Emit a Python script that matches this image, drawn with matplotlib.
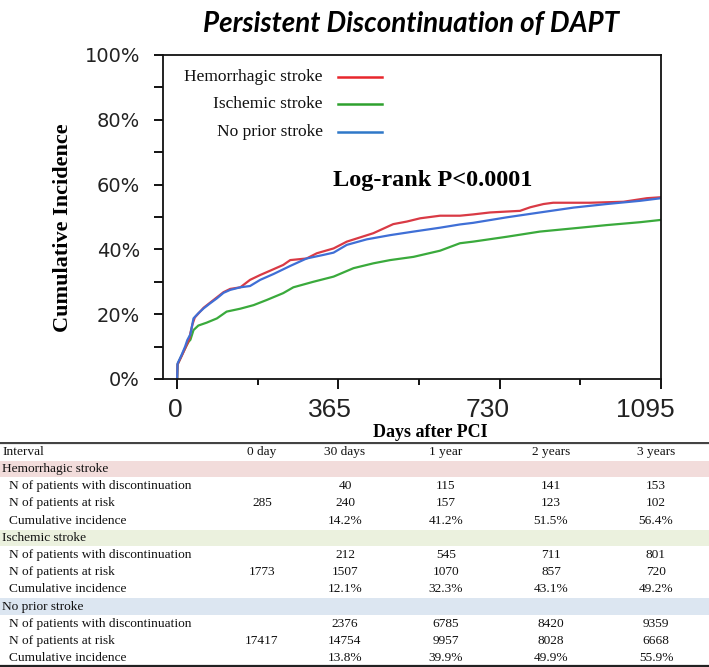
import matplotlib
matplotlib.use("Agg")
import matplotlib.pyplot as plt
import matplotlib.transforms as mtransforms
import numpy as np

# courbes (jours, incidence cumulée)
jours_hemo = [0, 1, 10, 20, 28, 30, 35, 40, 50, 60, 75, 90, 105, 120, 143, 165, 188, 210, 240,
              256, 293, 316, 354, 384, 414, 444, 489, 520, 550, 595, 640, 670, 708, 776, 799,
              829, 851, 934, 1010, 1063, 1095]
inc_hemo = [0.0, 0.045, 0.07, 0.10, 0.125, 0.142, 0.17, 0.19, 0.205, 0.22, 0.236, 0.252, 0.268,
            0.278, 0.283, 0.306, 0.321, 0.334, 0.352, 0.367, 0.372, 0.388, 0.403, 0.424, 0.437,
            0.45, 0.478, 0.486, 0.496, 0.504, 0.504, 0.508, 0.514, 0.519, 0.53, 0.54, 0.544,
            0.544, 0.547, 0.558, 0.561]

jours_isch = [0, 1, 10, 20, 26, 30, 37, 48, 67, 90, 112, 143, 173, 203, 240, 263, 308, 354, 399,
              444, 482, 535, 595, 640, 670, 746, 821, 897, 972, 1048, 1095]
inc_isch = [0.0, 0.045, 0.072, 0.10, 0.115, 0.121, 0.151, 0.165, 0.174, 0.187, 0.208, 0.217,
            0.228, 0.244, 0.265, 0.283, 0.30, 0.316, 0.342, 0.357, 0.367, 0.377, 0.396, 0.419,
            0.424, 0.439, 0.455, 0.465, 0.475, 0.484, 0.491]

jours_sans = [0, 1, 10, 18, 23, 30, 37, 48, 60, 75, 90, 105, 120, 143, 165, 188, 218, 256, 293,
              331, 354, 384, 429, 482, 535, 595, 640, 670, 746, 821, 897, 972, 1048, 1095]
inc_sans = [0.0, 0.048, 0.074, 0.10, 0.12, 0.138, 0.187, 0.203, 0.218, 0.234, 0.249, 0.266,
            0.275, 0.283, 0.287, 0.306, 0.324, 0.349, 0.372, 0.383, 0.39, 0.414, 0.431, 0.444,
            0.455, 0.467, 0.477, 0.482, 0.499, 0.514, 0.529, 0.54, 0.55, 0.558]

groupes = ["Hemorrhagic stroke", "Ischemic stroke", "No prior stroke"]
couleurs = ["#d93a45", "#3aaa3c", "#3f6fd6"]
couleurs_leg = ["#e8262c", "#2ea12e", "#2f78c8"]

# tableau sous le graphique
colonnes = ["0 day", "30 days", "1 year", "2 years", "3 years"]
lignes = ["N of patients with discontinuation", "N of patients at risk", "Cumulative incidence"]
disc = [["", "40", "115", "141", "153"],
        ["", "212", "545", "711", "801"],
        ["", "2376", "6785", "8420", "9359"]]
risque = [["285", "240", "157", "123", "102"],
          ["1773", "1507", "1070", "857", "720"],
          ["17417", "14754", "9957", "8028", "6668"]]
cumul = [["", "14.2%", "41.2%", "51.5%", "56.4%"],
         ["", "12.1%", "32.3%", "43.1%", "49.2%"],
         ["", "13.8%", "39.9%", "49.9%", "55.9%"]]
fonds = ["#f2dcdb", "#ebf1de", "#dce6f1"]

fig = plt.figure(figsize=(7.09, 6.67), dpi=100)
W, H = 709, 667

# axes principaux (box en pixels: gauche 163, droite 661, haut 55, bas 379)
ax = fig.add_axes([163 / W, 1 - 379 / H, (661 - 163) / W, (379 - 55) / H])
ax.plot(jours_isch, inc_isch, color=couleurs[1], lw=1.6)
ax.plot(jours_hemo, inc_hemo, color=couleurs[0], lw=1.6)
ax.plot(jours_sans, inc_sans, color=couleurs[2], lw=1.6)

ax.set_xlim(-32, 1095)
ax.set_ylim(0, 1)
for s in ax.spines.values():
    s.set_linewidth(1.3)
    s.set_color("#111111")

ax.set_xticks([0, 365, 730, 1095])
ax.set_xticks([182.5, 547.5, 912.5], minor=True)
ax.set_xticklabels(["0", "365", "730", "1095"], family="Liberation Sans",
                   fontsize=19, color="#222222")
ax.tick_params(axis="x", which="major", length=7.5, width=1.3, pad=6)
ax.tick_params(axis="x", which="minor", length=4, width=1.3)
# les étiquettes de l'original sont un peu décalées vers la gauche
for lab, dx in zip(ax.get_xticklabels(), [-2, -9, -12, -16]):
    lab.set_transform(lab.get_transform() + mtransforms.ScaledTranslation(dx / 100, 0, fig.dpi_scale_trans))
ax.set_yticks(np.arange(0, 1.01, 0.2))
ax.set_yticks(np.arange(0.1, 1.0, 0.2), minor=True)
ax.set_yticklabels(["0%", "20%", "40%", "60%", "80%", "100%"], family="DejaVu Sans", fontsize=14,
                   color="#222222")
ax.tick_params(axis="y", which="both", length=6.5, width=1.3, pad=10)

ax.set_ylabel("Cumulative Incidence", family="Liberation Serif", fontweight="bold", fontsize=16)
ax.yaxis.set_label_coords(-0.181, 0.466)
ax.set_xlabel("Days after PCI", family="Liberation Serif", fontweight="bold", fontsize=13)
ax.xaxis.set_label_coords(0.536, -0.138)

# légende faite à la main (texte aligné à droite)
for i, (g, c) in enumerate(zip(groupes, couleurs_leg)):
    y = [0.932, 0.849, 0.762][i]
    ax.text(0.321, y, g, transform=ax.transAxes, ha="right", va="center",
            family="Liberation Serif", fontsize=12.5, color="#111111")
    ax.plot([0.351, 0.44], [y, y], transform=ax.transAxes, color=c, lw=1.8)

ax.text(0.341, 0.614, "Log-rank P<0.0001", transform=ax.transAxes, ha="left", va="center",
        family="Liberation Serif", fontweight="bold", fontsize=17.5)

fig.text(411 / W, 1 - 24 / H, "Persistent Discontinuation of DAPT", ha="center", va="center",
         family="Lato", fontstyle="italic", fontweight="bold", fontsize=20)

# tableau
pas = 17.22
haut_tab = 442
axt = fig.add_axes([0, 0, 1, (H - haut_tab) / H])
axt.set_xlim(0, 1)
axt.set_ylim((H - 451.7) / pas, (haut_tab - 451.7) / pas)
axt.axis("off")
police = dict(family="Liberation Serif", fontsize=9.6, color="#111111", va="center")
pos_col = [262 / W, 345 / W, 446 / W, 551 / W, 656 / W]

axt.text(0.003, 0, "Interval", ha="left", **police)
for x, c in zip(pos_col, colonnes):
    axt.text(x, 0, c, ha="center", **police)

r = 1
for k, g in enumerate(groupes):
    axt.axhspan(r - 0.48, r + 0.48, color=fonds[k], lw=0)
    axt.text(0.003, r, g, ha="left", **police)
    for j, vals in enumerate([disc[k], risque[k], cumul[k]]):
        axt.text(0.012, r + 1 + j, lignes[j], ha="left", **police)
        for x, v in zip(pos_col, vals):
            axt.text(x, r + 1 + j, v, ha="center", **police)
    r += 4

axt.axhline((haut_tab - 451.7) / pas + 0.03, color="#444444", lw=1.6)
axt.axhline((665.7 - 451.7) / pas, color="#222222", lw=1.6)

fig.savefig("out.png", dpi=100)
